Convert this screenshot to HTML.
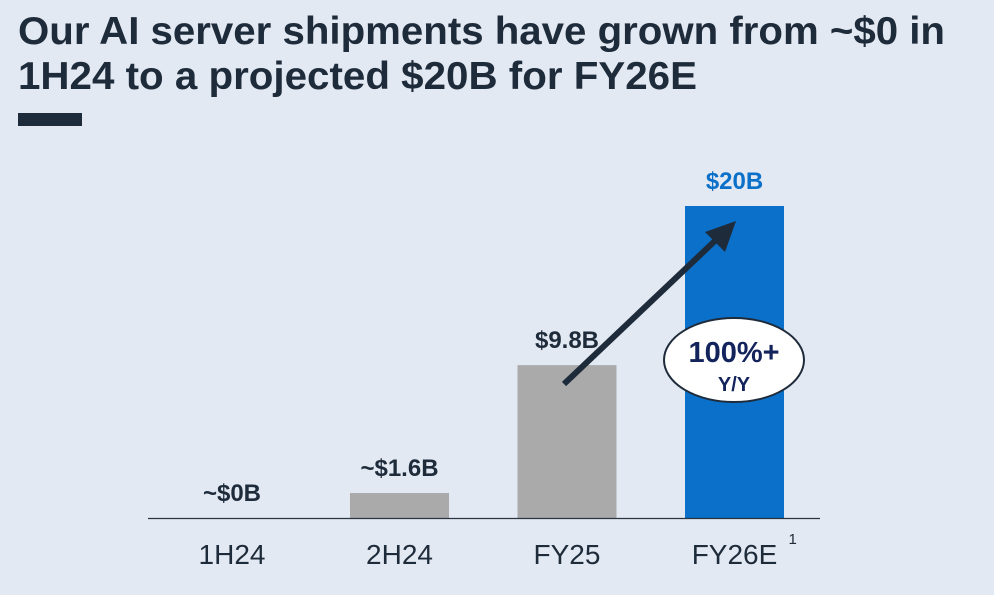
<!DOCTYPE html>
<html><head><meta charset="utf-8"><style>
body{margin:0;width:994px;height:590px;background:#e3e9f2;overflow:hidden;font-family:"Liberation Sans",Arial,sans-serif}
</style></head><body>
<svg width="994" height="590">
<text x="18" y="44" font-size="39" font-weight="bold" fill="#1e2b3a" textLength="927" lengthAdjust="spacingAndGlyphs">Our AI server shipments have grown from ~$0 in</text>
<text x="18" y="89" font-size="39" font-weight="bold" fill="#1e2b3a" textLength="679" lengthAdjust="spacingAndGlyphs">1H24 to a projected $20B for FY26E</text>
<rect x="18" y="113" width="64" height="13" fill="#1e2b3a"/>
<g id="bars"></g>
<line x1="148" y1="518.5" x2="820" y2="518.5" stroke="#2a3440" stroke-width="1.2"/>
<line x1="564" y1="384" x2="718" y2="238" stroke="#1e2b3a" stroke-width="6"/>
<polygon points="736,221 705,232 725,252" fill="#1e2b3a"/>
<ellipse cx="734" cy="360" rx="70" ry="42" fill="#fff" stroke="#1e2b3a" stroke-width="2"/>
<text x="734" y="362" font-size="29" font-weight="bold" fill="#13235b" text-anchor="middle">100%+</text>
<text x="734" y="391" font-size="20" font-weight="bold" fill="#13235b" text-anchor="middle">Y/Y</text>
</svg>
<script>
const categories=["1H24","2H24","FY25","FY26E"];
const values=[0,1.6,9.8,20];
const valueLabels=["~$0B","~$1.6B","$9.8B","$20B"];
const colors=["#aaaaaa","#aaaaaa","#aaaaaa","#0a70c9"];
const NS="http://www.w3.org/2000/svg";
const g=document.getElementById("bars");
const base=518, scale=15.6, x0=232, step=167.5, bw=99;
function y(v){return base-v*scale;}
function xc(i){return x0+i*step;}
categories.forEach((c,i)=>{
  const top=y(values[i]);
  if(values[i]>0){
    const r=document.createElementNS(NS,"rect");
    r.setAttribute("x",xc(i)-bw/2);r.setAttribute("y",top);
    r.setAttribute("width",bw);r.setAttribute("height",base-top);
    r.setAttribute("fill",colors[i]);
    
    
    g.appendChild(r);
  }
  const t=document.createElementNS(NS,"text");
  t.setAttribute("x",xc(i));t.setAttribute("y",top-17);
  t.setAttribute("text-anchor","middle");t.setAttribute("font-size","24");
  t.setAttribute("font-weight","bold");t.setAttribute("fill",i==3?"#0a70c9":"#1e2b3a");
  t.textContent=valueLabels[i];
  
  
  g.appendChild(t);
  const l=document.createElementNS(NS,"text");
  l.setAttribute("x",xc(i));l.setAttribute("y",564);
  l.setAttribute("text-anchor","middle");l.setAttribute("font-size","28");
  l.setAttribute("fill","#1e2b3a");
  l.textContent=c;
  
  
  g.appendChild(l);
});
const s=document.createElementNS(NS,"text");
s.setAttribute("x",xc(3)+54);s.setAttribute("y",544);s.setAttribute("font-size","15");s.setAttribute("fill","#1e2b3a");
s.textContent="1";


g.appendChild(s);
</script>
</body></html>
